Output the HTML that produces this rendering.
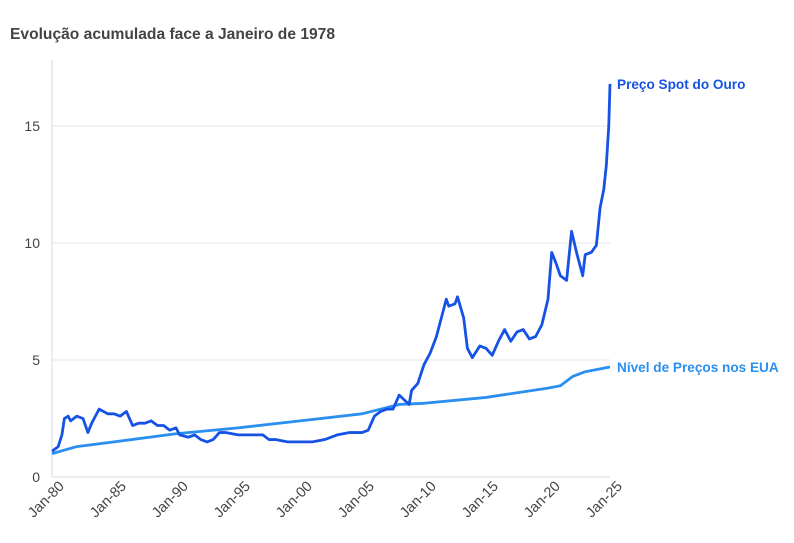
<!DOCTYPE html>
<html><head><meta charset="utf-8"><style>
body{margin:0;background:#fff;font-family:"Liberation Sans",sans-serif}
svg{display:block}
</style></head><body>
<svg id="c" width="794" height="543">
<text x="10" y="39" font-size="15.6" font-weight="bold" fill="#444">Evolução acumulada face a Janeiro de 1978</text>
</svg>
<script>
const yTicks=[0,5,10,15];
const xTickYears=[1980,1985,1990,1995,2000,2005,2010,2015,2020,2025];
const xTickLabels=["Jan-80","Jan-85","Jan-90","Jan-95","Jan-00","Jan-05","Jan-10","Jan-15","Jan-20","Jan-25"];
const goldT=[1980,1980.5,1980.8,1981,1981.3,1981.5,1982,1982.5,1982.9,1983.2,1983.8,1984.5,1985,1985.5,1986,1986.5,1987,1987.5,1988,1988.5,1989,1989.5,1990,1990.3,1991,1991.5,1992,1992.5,1993,1993.5,1994,1995,1996,1997,1997.5,1998,1999,2000,2001,2002,2003,2004,2005,2005.5,2006,2006.5,2007,2007.5,2008,2008.8,2009,2009.5,2010,2010.5,2011,2011.5,2011.8,2012,2012.5,2012.7,2013.2,2013.5,2013.9,2014.5,2015,2015.5,2016,2016.5,2017,2017.5,2018,2018.5,2019,2019.5,2020,2020.3,2020.6,2021,2021.5,2021.9,2022.3,2022.8,2023,2023.5,2023.9,2024.2,2024.5,2024.7,2024.9,2025];
const goldV=[1.1,1.3,1.8,2.5,2.6,2.4,2.6,2.5,1.9,2.3,2.9,2.7,2.7,2.6,2.8,2.2,2.3,2.3,2.4,2.2,2.2,2.0,2.1,1.8,1.7,1.8,1.6,1.5,1.6,1.9,1.9,1.8,1.8,1.8,1.6,1.6,1.5,1.5,1.5,1.6,1.8,1.9,1.9,2.0,2.6,2.8,2.9,2.9,3.5,3.1,3.7,4.0,4.8,5.3,6.0,7.0,7.6,7.3,7.4,7.7,6.8,5.5,5.1,5.6,5.5,5.2,5.8,6.3,5.8,6.2,6.3,5.9,6.0,6.5,7.6,9.6,9.2,8.6,8.4,10.5,9.6,8.6,9.5,9.6,9.9,11.5,12.3,13.3,15.0,16.8];
const cpiT=[1980,1982,1985,1990,1995,2000,2005,2008,2010,2015,2020,2021,2022,2023,2025];
const cpiV=[1.0,1.3,1.5,1.85,2.1,2.4,2.7,3.1,3.15,3.4,3.8,3.9,4.3,4.5,4.7];
const X=t=>52+(t-1980)*12.4, Y=v=>477-v*23.4;
const svg=document.getElementById('c'),NS='http://www.w3.org/2000/svg';
function mk(tag,at){const e=document.createElementNS(NS,tag);for(const k in at)e.setAttribute(k,at[k]);svg.appendChild(e);return e;}
yTicks.forEach(v=>{
 if(v>0){const g=mk('line',{x1:52,x2:610,y1:Y(v),y2:Y(v),stroke:'#eeeef4','stroke-width':1.5});
 
 }
 const t=mk('text',{x:40,y:Y(v)+5,'font-size':14,fill:'#444','text-anchor':'end'});t.textContent=v;
 
 
});
const ax=mk('line',{x1:52,x2:52,y1:60,y2:477,stroke:'#e6e6ec','stroke-width':1.5});


const bx=mk('line',{x1:52,x2:610,y1:477,y2:477,stroke:'#e6e6ec','stroke-width':1.5});


xTickYears.forEach((y,i)=>{const x=X(y)+13,yy=487;const t=mk('text',{x:x,y:yy,'font-size':14.5,fill:'#444','text-anchor':'end',transform:`rotate(-45 ${x} ${yy})`});t.textContent=xTickLabels[i];
 
 });
function line(T,V,col,name){const p=mk('polyline',{points:T.map((t,i)=>X(t)+','+Y(V[i])).join(' '),fill:'none',stroke:col,'stroke-width':2.8,'stroke-linejoin':'round'});
 
 }
line(cpiT,cpiV,'#2b8ff0','cpi-line');
line(goldT,goldV,'#1652e6','gold-line');
let l1=mk('text',{x:617,y:Y(goldV[goldV.length-1])+5,'font-size':13.6,'font-weight':'bold',fill:'#1652e6'});l1.textContent='Preço Spot do Ouro';


let l2=mk('text',{x:617,y:Y(cpiV[cpiV.length-1])+5,'font-size':13.6,'font-weight':'bold',fill:'#2b8ff0'});l2.textContent='Nível de Preços nos EUA';


</script>
</body></html>
